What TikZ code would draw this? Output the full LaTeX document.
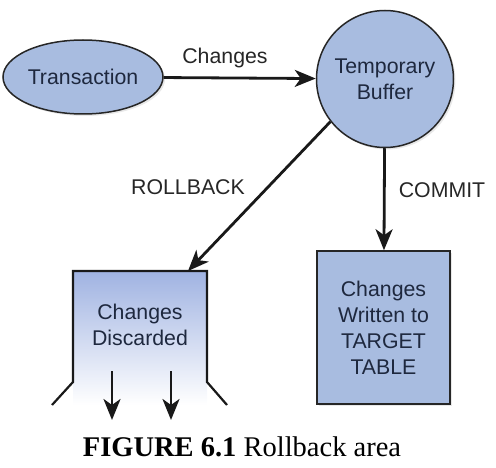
\documentclass[tikz,border=0pt]{standalone}
\usepackage{fontspec}
\setmainfont{Liberation Serif}
\newfontfamily\diagfont{Liberation Sans}
\usetikzlibrary{shapes.geometric,arrows.meta,shadows}
\definecolor{bufferBlue}{RGB}{168,188,224}
\definecolor{labelInk}{RGB}{30,40,62}

\begin{document}
\begin{tikzpicture}
[x=1pt,y=-1pt,%
  darkArrow/.style={-{Stealth[length=21pt,width=17pt,inset=6pt]},line width=2.8pt,color=black!90},%
  nodeDecorate/.style={draw=black!85,line width=1.5pt,fill=bufferBlue,text=labelInk,inner sep=0pt,%
    drop shadow={opacity=0.18,shadow xshift=2pt,shadow yshift=-2pt}},%
  labelText/.style={text=black!85},%
  font=\diagfont\fontsize{21.3}{26}\selectfont]
\useasboundingbox (0,0) rectangle (496,468);
%% nodes or vertices
\node (trans) at (83,77) [nodeDecorate,ellipse,minimum width=160pt,minimum height=74pt] {Transaction};
\node (buffer) at (385,79) [nodeDecorate,circle,minimum size=137pt,align=center] {Temporary\\Buffer};
\node (target) at (383.5,327.5) [nodeDecorate,rectangle,minimum width=133pt,minimum height=153pt,align=center] {Changes\\Written to\\TARGET\\TABLE};
%% discard area
\shade[top color=bufferBlue!95!blue,bottom color=white] (73,271) rectangle (207,405);
\draw[line width=2.2pt,color=black!90] (52,405) -- (73,382) -- (73,271) -- (207,271) -- (207,382) -- (227,405);
\node (discard) at (140,325) [text=labelInk,align=center] {Changes\\Discarded};
\coordinate (discardTop) at (188,271);
\foreach \dropname/\x in {dropA/112, dropB/171}
{
  \coordinate (\dropname s) at (\x,371);
  \coordinate (\dropname e) at (\x,420);
}
%% labels
\node (changesLabel) at (225,58) [labelText] {Changes};
\node (rollbackLabel) at (188,187) [labelText] {ROLLBACK};
\node (commitLabel) at (442,190) [labelText] {COMMIT};
%% dark edges or lines
\path
\foreach \startnode/\endnode in {trans/buffer, buffer.218/discardTop, buffer/target, dropAs/dropAe, dropBs/dropBe}
{
  (\startnode) edge[darkArrow] node {} (\endnode)
};
%% caption
\node (caption) at (242,447) {\rmfamily\fontsize{28.5}{34}\selectfont\textbf{FIGURE 6.1} Rollback area};
\end{tikzpicture}
\end{document}
